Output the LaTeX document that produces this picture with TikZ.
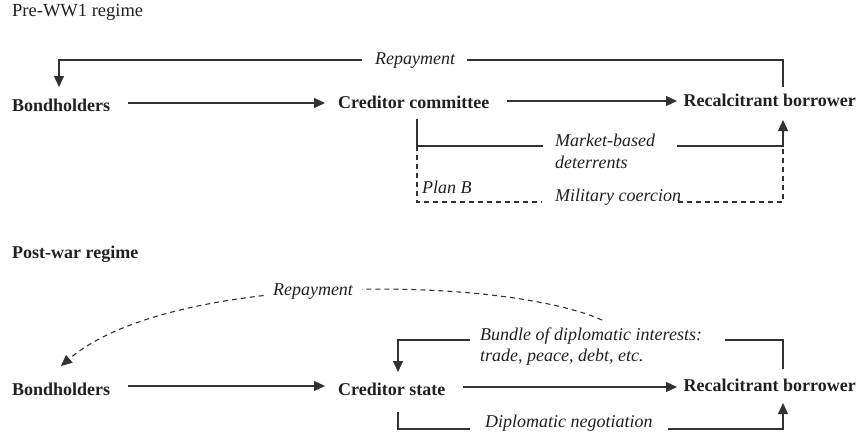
\documentclass[tikz,border=0pt]{standalone}
\usepackage{fontspec}
\setmainfont{Liberation Serif}
\usetikzlibrary{arrows.meta}
\definecolor{ink}{RGB}{35,31,32}
\definecolor{lineink}{RGB}{50,50,50}
\begin{document}
\begin{tikzpicture}[x=1pt,y=-1pt,
  txt/.style={anchor=base west, inner sep=0pt, text=ink, font=\fontsize{18.5}{21}\selectfont},
  lbl/.style={txt, font=\fontsize{18}{21}\selectfont\itshape},
  ent/.style={txt, font=\fontsize{18}{21}\selectfont\bfseries},
  ln/.style={draw=lineink, line width=1.1pt},
  tip/.style={-{Triangle[length=11pt,width=10pt]}},
  arr/.style={ln, tip},
  dsh/.style={ln, dash pattern=on 5pt off 4pt},
]
\useasboundingbox (0,0) rectangle (861,436);

% ---------------- Pre-WW1 regime ----------------
\node[txt] (t1) at (12,17) {Pre-WW1 regime};
\node[ent] (bh1) at (12,111) {Bondholders};
\node[ent] (cc) at (338,108) {Creditor committee};
\node[ent, anchor=base east] (rb1) at (856,106) {Recalcitrant borrower};

\node[lbl] (rep1) at (375,64) {Repayment};
\node[lbl] (mb1) at (555,146) {Market-based};
\node[lbl] (mb2) at (555,168) {deterrents};
\node[lbl] (pb) at (422,193) {Plan B};
\node[lbl] (mc) at (555,201) {Military coercion};

\coordinate (a1s) at (128,103);  \coordinate (a1e) at (325,103);
\coordinate (a2s) at (507,101);  \coordinate (a2e) at (677,101);
\draw[arr] (a1s) -- (a1e);
\draw[arr] (a2s) -- (a2e);

% repayment loop
\coordinate (r1a) at (783,87);   \coordinate (r1b) at (467,60);
\coordinate (r1c) at (362,60);   \coordinate (r1d) at (59,87);
\draw[ln] (r1a) |- (r1b);
\draw[arr] (r1c) -| (r1d);

% market-based deterrents
\coordinate (m1) at (417,119);   \coordinate (m2) at (543,146);
\coordinate (m3) at (677,146);   \coordinate (m4) at (783,120);
\draw[ln] (m1) |- (m2);
\draw[arr] (m3) -| (m4);

% military coercion (dashed)
\coordinate (d1) at (417,146);   \coordinate (d2) at (542,202);
\coordinate (d3) at (678,202);   \coordinate (d4) at (783,146);
\draw[dsh] (d1) |- (d2);
\draw[dsh] (d3) -| (d4);

% ---------------- Post-war regime ----------------
\node[ent] (t2) at (12,258) {Post-war regime};
\node[ent] (bh2) at (12,395) {Bondholders};
\node[ent] (cs) at (338,395) {Creditor state};
\node[ent, anchor=base east] (rb2) at (856,391) {Recalcitrant borrower};

\node[lbl] (bu1) at (480,340) {Bundle of diplomatic interests:};
\node[lbl] (bu2) at (480,361) {trade, peace, debt, etc.};
\node[lbl] (dn) at (485,427) {Diplomatic negotiation};

\coordinate (b1s) at (128,386);  \coordinate (b1e) at (325,386);
\coordinate (b2s) at (463,387);  \coordinate (b2e) at (677,387);
\draw[arr] (b1s) -- (b1e);
\draw[arr] (b2s) -- (b2e);

% dashed repayment curve
\coordinate (rs) at (602,320);   \coordinate (re) at (61,366);
\draw[dsh, tip] (rs) .. controls (500,275) and (170,272) .. (re);
\node[anchor=base, inner xsep=9.5pt, inner ysep=1pt, fill=white, text=ink,
      font=\fontsize{18}{21}\selectfont\itshape] (rep2) at (313,295) {Repayment};

% bundle loop
\coordinate (u1) at (783,369);   \coordinate (u2) at (725,340);
\coordinate (u3) at (470,340);   \coordinate (u4) at (398,372);
\draw[ln] (u1) |- (u2);
\draw[arr] (u3) -| (u4);

% diplomatic negotiation
\coordinate (n1) at (398,412);   \coordinate (n2) at (470,429);
\coordinate (n3) at (668,429);   \coordinate (n4) at (783,403);
\draw[ln] (n1) |- (n2);
\draw[arr] (n3) -| (n4);
\end{tikzpicture}
\end{document}
